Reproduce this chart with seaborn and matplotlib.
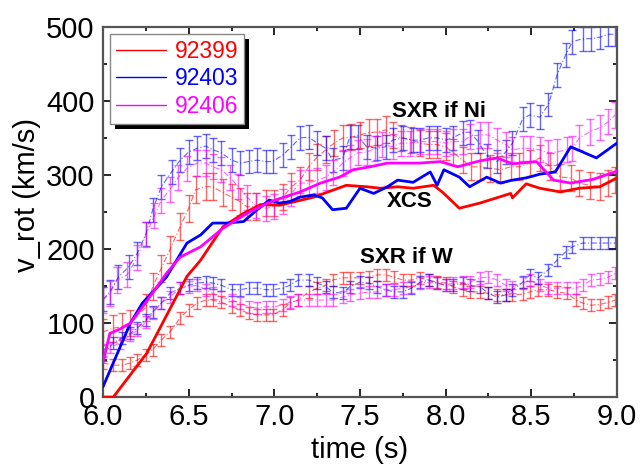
import numpy as np
import pandas as pd
import matplotlib
matplotlib.use("Agg")
import matplotlib.pyplot as plt
import seaborn as sns
from matplotlib.lines import Line2D
from matplotlib.patches import Rectangle
from matplotlib.ticker import MultipleLocator, FormatStrFormatter

# ---------------- data ----------------
shots = ["92399", "92403", "92406"]
colors = {"92399": "#ff0000", "92403": "#0000ff", "92406": "#ff00ff"}

# XCS (solid lines)
xcs_t_92399 = [6.00, 6.06, 6.255, 6.49, 6.57, 6.70, 6.82, 6.92, 7.03, 7.23, 7.42, 7.54, 7.62, 7.72,
               7.81, 7.93, 7.98, 8.08, 8.20, 8.38, 8.39, 8.47, 8.55, 8.67, 8.78, 8.90, 9.00]
xcs_v_92399 = [0, 0, 59, 163, 185, 230, 248, 260, 259, 270, 286, 284, 282, 284,
               282, 286, 277, 255, 262, 275, 269, 288, 282, 277, 282, 284, 296]
xcs_t_92403 = [6.00, 6.16, 6.23, 6.37, 6.49, 6.57, 6.64, 6.72, 6.82, 6.90, 6.97, 7.03, 7.09, 7.15,
               7.23, 7.28, 7.34, 7.42, 7.50, 7.58, 7.66, 7.72, 7.81, 7.91, 7.95, 7.99, 8.08, 8.14,
               8.24, 8.32, 8.39, 8.47, 8.55, 8.64, 8.73, 8.80, 8.88, 9.00]
xcs_v_92403 = [14, 100, 127, 162, 208, 219, 235, 235, 237, 253, 266, 262, 264, 270,
               273, 269, 253, 255, 282, 275, 284, 293, 290, 304, 286, 307, 297, 284,
               297, 289, 293, 296, 301, 304, 338, 331, 323, 343]
xcs_t_92406 = [6.00, 6.04, 6.10, 6.16, 6.26, 6.37, 6.45, 6.57, 6.70, 6.84, 6.96, 7.03, 7.15, 7.27,
               7.38, 7.46, 7.56, 7.66, 7.77, 7.85, 7.97, 8.07, 8.20, 8.30, 8.39, 8.53, 8.63, 8.73,
               8.86, 9.00]
xcs_v_92406 = [47, 86, 92, 100, 131, 167, 189, 203, 228, 248, 262, 268, 277, 289,
               297, 307, 311, 316, 316, 316, 318, 311, 319, 323, 315, 318, 293, 289,
               294, 305]

# SXR if Ni (upper, with error bars)
ni_t_92399 = [6.00, 6.06, 6.11, 6.16, 6.25, 6.29, 6.34, 6.39, 6.45, 6.50, 6.54, 6.60, 6.64, 6.70,
              6.75, 6.80, 6.84, 6.89, 6.95, 7.00, 7.05, 7.10, 7.15, 7.20, 7.25, 7.30, 7.35, 7.40,
              7.45, 7.50, 7.55, 7.60, 7.65, 7.69, 7.74, 7.80, 7.85, 7.90, 7.95, 8.00, 8.04, 8.10,
              8.15, 8.20, 8.26, 8.32, 8.38, 8.43, 8.49, 8.55, 8.61, 8.67, 8.73, 8.78, 8.84, 8.90,
              8.95, 8.99]
ni_v_92399 = [88, 93, 95, 100, 121, 149, 174, 199, 230, 255, 280, 284, 284, 276,
              270, 264, 257, 257, 262, 262, 270, 284, 293, 311, 324, 334, 343, 350,
              351, 354, 357, 358, 361, 354, 350, 347, 343, 341, 341, 338, 331, 320,
              311, 311, 309, 307, 311, 311, 316, 323, 311, 297, 296, 289, 286, 284,
              289, 293]
ni_e_92399 = 18

ni_t_92403 = [6.00, 6.04, 6.09, 6.15, 6.20, 6.25, 6.29, 6.34, 6.40, 6.45, 6.50, 6.55, 6.60, 6.64,
              6.69, 6.75, 6.80, 6.85, 6.90, 6.95, 6.99, 7.05, 7.10, 7.15, 7.20, 7.25, 7.30, 7.34,
              7.40, 7.44, 7.49, 7.54, 7.60, 7.65, 7.69, 7.75, 7.81, 7.85, 7.90, 7.95, 8.00, 8.04,
              8.10, 8.14, 8.19, 8.24, 8.30, 8.35, 8.39, 8.45, 8.49, 8.55, 8.60, 8.65, 8.70, 8.74,
              8.80, 8.85, 8.90, 8.95, 8.99]
ni_v_92403 = [132, 142, 162, 176, 194, 220, 253, 284, 304, 320, 331, 336, 339, 334,
              330, 320, 316, 318, 320, 318, 318, 327, 338, 350, 351, 343, 336, 320,
              323, 351, 351, 338, 336, 338, 347, 350, 347, 347, 350, 350, 347, 350,
              357, 358, 345, 326, 318, 331, 343, 376, 381, 378, 395, 435, 462, 480,
              484, 484, 486, 490, 490]
ni_e_92403 = 16

ni_t_92406 = [6.00, 6.04, 6.08, 6.14, 6.20, 6.25, 6.30, 6.34, 6.39, 6.44, 6.49, 6.55, 6.60, 6.64,
              6.69, 6.74, 6.79, 6.84, 6.89, 6.95, 7.00, 7.05, 7.10, 7.15, 7.20, 7.25, 7.30, 7.34,
              7.40, 7.44, 7.49, 7.54, 7.59, 7.63, 7.69, 7.74, 7.79, 7.85, 7.90, 7.95, 8.00, 8.04,
              8.10, 8.14, 8.20, 8.25, 8.30, 8.35, 8.39, 8.45, 8.49, 8.55, 8.60, 8.65, 8.71, 8.74,
              8.78, 8.84, 8.90, 8.95, 8.99]
ni_v_92406 = [131, 140, 158, 165, 188, 219, 245, 266, 280, 297, 309, 316, 316, 311,
              307, 297, 284, 270, 259, 255, 257, 264, 275, 289, 289, 293, 297, 303,
              316, 323, 330, 331, 336, 341, 338, 343, 343, 345, 345, 345, 343, 345,
              345, 352, 354, 354, 347, 341, 334, 336, 336, 334, 330, 331, 334, 336,
              350, 358, 364, 372, 381]
ni_e_92406 = 17

# SXR if W (lower, with error bars)
w_t_92399 = [6.00, 6.06, 6.11, 6.16, 6.20, 6.25, 6.29, 6.34, 6.39, 6.45, 6.50, 6.55, 6.60, 6.64,
             6.69, 6.75, 6.80, 6.85, 6.90, 6.95, 6.99, 7.05, 7.09, 7.14, 7.20, 7.25, 7.30, 7.34,
             7.40, 7.44, 7.50, 7.55, 7.60, 7.65, 7.70, 7.75, 7.80, 7.85, 7.90, 7.95, 8.00, 8.04,
             8.10, 8.14, 8.20, 8.25, 8.30, 8.35, 8.39, 8.45, 8.49, 8.54, 8.60, 8.65, 8.71, 8.76,
             8.80, 8.85, 8.90, 8.95, 8.99]
w_v_92399 = [46, 43, 43, 46, 50, 57, 64, 77, 88, 107, 118, 127, 131, 131,
             128, 122, 118, 113, 111, 111, 111, 118, 127, 131, 142, 147, 151, 158,
             161, 161, 161, 162, 165, 165, 162, 158, 158, 161, 158, 155, 154, 149,
             145, 142, 142, 140, 138, 138, 138, 139, 142, 145, 145, 142, 140, 131,
             127, 124, 125, 128, 131]
w_e_92399 = 8

w_t_92403 = [6.00, 6.06, 6.11, 6.16, 6.20, 6.25, 6.29, 6.34, 6.39, 6.45, 6.50, 6.55, 6.60, 6.64,
             6.69, 6.75, 6.80, 6.85, 6.90, 6.95, 6.99, 7.05, 7.09, 7.14, 7.20, 7.25, 7.30, 7.34,
             7.40, 7.44, 7.50, 7.55, 7.60, 7.65, 7.70, 7.75, 7.80, 7.85, 7.90, 7.95, 8.00, 8.04,
             8.10, 8.14, 8.20, 8.25, 8.30, 8.35, 8.39, 8.45, 8.49, 8.54, 8.60, 8.65, 8.70, 8.74,
             8.80, 8.85, 8.90, 8.95, 8.99]
w_v_92403 = [57, 73, 80, 86, 93, 104, 115, 127, 140, 147, 151, 154, 155, 154,
             151, 145, 145, 147, 147, 145, 145, 147, 151, 158, 158, 154, 149, 142,
             140, 149, 155, 154, 149, 145, 142, 142, 147, 155, 158, 154, 151, 151,
             154, 151, 149, 140, 135, 138, 145, 155, 165, 161, 172, 185, 196, 203,
             208, 208, 208, 208, 208]
w_e_92403 = 8

w_t_92406 = [6.00, 6.04, 6.10, 6.16, 6.20, 6.25, 6.29, 6.34, 6.39, 6.45, 6.50, 6.55, 6.60, 6.64,
             6.69, 6.75, 6.80, 6.85, 6.90, 6.95, 6.99, 7.05, 7.09, 7.14, 7.20, 7.25, 7.30, 7.34,
             7.40, 7.44, 7.50, 7.55, 7.60, 7.65, 7.70, 7.75, 7.80, 7.85, 7.90, 7.95, 8.00, 8.04,
             8.10, 8.14, 8.20, 8.25, 8.30, 8.35, 8.39, 8.45, 8.49, 8.55, 8.60, 8.65, 8.71, 8.76,
             8.80, 8.85, 8.90, 8.95, 8.99]
w_v_92406 = [64, 67, 73, 84, 90, 101, 113, 127, 135, 147, 149, 151, 145, 140,
             135, 131, 127, 122, 120, 122, 122, 124, 128, 131, 131, 131, 131, 131,
             135, 138, 140, 142, 142, 145, 145, 147, 149, 154, 155, 154, 151, 154,
             155, 155, 161, 162, 158, 151, 149, 154, 158, 151, 147, 147, 147, 147,
             151, 158, 159, 162, 167]
w_e_92406 = 8

annotations = [("SXR if Ni", 7.96, 385), ("XCS", 7.79, 264), ("SXR if W", 7.77, 189)]

x_label = "time (s)"
y_label = "v_rot (km/s)"

# ---------------- figure ----------------
sns.set_theme(style="ticks")
plt.rcParams["font.family"] = ["Liberation Sans", "DejaVu Sans"]
plt.rcParams["text.color"] = "black"
plt.rcParams["axes.labelcolor"] = "black"
plt.rcParams["xtick.color"] = "black"
plt.rcParams["ytick.color"] = "black"

fig = plt.figure(figsize=(6.4, 4.71), dpi=100)
ax = fig.add_axes([0.161, 0.157, 0.964 - 0.161, 0.943 - 0.157])

err_sets = [
    (ni_t_92399, ni_v_92399, ni_e_92399, "92399"),
    (ni_t_92403, ni_v_92403, ni_e_92403, "92403"),
    (ni_t_92406, ni_v_92406, ni_e_92406, "92406"),
    (w_t_92399, w_v_92399, w_e_92399, "92399"),
    (w_t_92403, w_v_92403, w_e_92403, "92403"),
    (w_t_92406, w_v_92406, w_e_92406, "92406"),
]
for t, v, e, s in err_sets:
    ax.errorbar(t, v, yerr=e, color=colors[s], alpha=0.6, lw=0.8,
                linestyle=(0, (5, 2, 1, 2)), elinewidth=1.0, capsize=3, capthick=1.0,
                zorder=2)

xcs_df = pd.concat([
    pd.DataFrame({"t": xcs_t_92399, "v": xcs_v_92399, "shot": "92399"}),
    pd.DataFrame({"t": xcs_t_92403, "v": xcs_v_92403, "shot": "92403"}),
    pd.DataFrame({"t": xcs_t_92406, "v": xcs_v_92406, "shot": "92406"}),
])
sns.lineplot(data=xcs_df, x="t", y="v", hue="shot", palette=colors, lw=2.0,
             estimator=None, sort=False, legend=False, ax=ax, zorder=3)

for txt, x, y in annotations:
    ax.text(x, y, txt, ha="center", va="center", fontsize=16, fontweight="bold",
            color="black", zorder=4)

ax.set_xlim(6.0, 9.0)
ax.set_ylim(0, 500)
ax.xaxis.set_major_locator(MultipleLocator(0.5))
ax.xaxis.set_minor_locator(MultipleLocator(0.25))
ax.yaxis.set_major_locator(MultipleLocator(100))
ax.yaxis.set_minor_locator(MultipleLocator(50))
ax.xaxis.set_major_formatter(FormatStrFormatter("%.1f"))
ax.tick_params(which="both", direction="in", top=True, right=True, color="black",
               labelcolor="black", labelsize=21)
ax.tick_params(axis="x", which="major", pad=4)
ax.tick_params(axis="y", which="major", pad=6)
ax.tick_params(which="major", length=6, width=1.2)
ax.tick_params(which="minor", length=3, width=1.2)
for sp in ax.spines.values():
    sp.set_color("#555555")
    sp.set_linewidth(1.6)
ax.set_xlabel(x_label, fontsize=21, labelpad=4, color="black")
ax.set_ylabel(y_label, fontsize=21, color="black")
ax.yaxis.set_label_coords(-0.12, 0.546)

handles = [Line2D([], [], color=colors[s], lw=1.0) for s in shots]
leg = ax.legend(handles, shots, loc="upper left", bbox_to_anchor=(0.014, 0.981),
                borderaxespad=0, fontsize=16.5, frameon=True, fancybox=False,
                handlelength=2.2, handletextpad=0.35, labelspacing=0.2,
                borderpad=0.25, edgecolor="#888888")
leg.get_frame().set_linewidth(1.0)
leg.get_frame().set_alpha(1)
leg.set_zorder(10)
for txt, s in zip(leg.get_texts(), shots):
    txt.set_color(colors[s])

fig.canvas.draw()
bb = leg.get_frame().get_window_extent()
W, H = fig.bbox.width, fig.bbox.height
off = 5
shadow = Rectangle(((bb.x0 + off) / W, (bb.y0 - off) / H), bb.width / W, bb.height / H,
                   transform=fig.transFigure, facecolor="black", edgecolor="none",
                   zorder=9)
ax.add_artist(shadow)
shadow.set_clip_on(False)

fig.savefig("out.png", dpi=100)
